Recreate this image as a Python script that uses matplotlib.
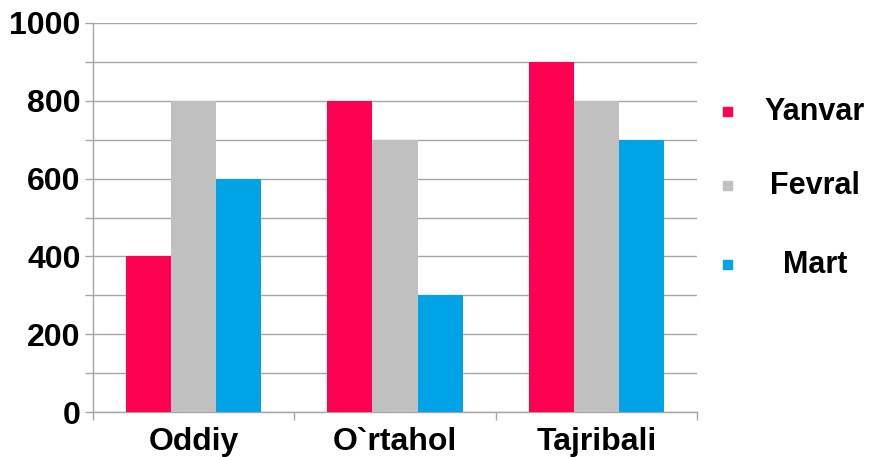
import matplotlib
matplotlib.use('Agg')
import matplotlib.pyplot as plt
from matplotlib.patches import Rectangle
import numpy as np

categories = ['Oddiy', 'O`rtahol', 'Tajribali']
series_names = ['Yanvar', 'Fevral', 'Mart']
yanvar = [400, 800, 900]
fevral = [800, 700, 800]
mart = [600, 300, 700]
colors = ['#FF0052', '#C0C0C0', '#00A3E6']

plt.rcParams['font.family'] = ['Liberation Sans', 'DejaVu Sans']
plt.rcParams['font.weight'] = 'bold'

fig = plt.figure(figsize=(8.79, 4.57), dpi=100)
ax = fig.add_axes([93 / 879, 1 - 412 / 457, (697 - 93) / 879, (412 - 23) / 457])

x = np.arange(len(categories))
w = 0.224
for i, (vals, c) in enumerate(zip([yanvar, fevral, mart], colors)):
    ax.bar(x + (i - 1) * w, vals, width=w, color=c, zorder=3)

ax.set_xlim(-0.5, len(categories) - 0.5)
ax.set_ylim(0, 1000)

# y axis: labels every 200, grid every 100
ax.set_yticks(np.arange(0, 1001, 200))
ax.set_yticks(np.arange(0, 1001, 100), minor=True)
ax.grid(True, axis='y', which='both', color='#A6A6A6', linewidth=1, zorder=0)
ax.tick_params(axis='y', which='both', length=6, color='#A6A6A6', width=1,
               labelsize=23, pad=3)

# x axis: labels at centres, tick marks at category boundaries
ax.set_xticks(x)
ax.set_xticklabels(categories)
ax.set_xticks(np.arange(-0.5, len(categories), 1), minor=True)
ax.tick_params(axis='x', which='major', length=0, labelsize=23, pad=11)
ax.tick_params(axis='x', which='minor', length=6, color='#A6A6A6', width=1)

for s in ['top', 'right']:
    ax.spines[s].set_visible(False)
for s in ['left', 'bottom']:
    ax.spines[s].set_color('#A6A6A6')
    ax.spines[s].set_linewidth(1)

# legend drawn by hand: small squares with centred text
leg_y = [112, 186, 265]
for name, c, yp in zip(series_names, colors, leg_y):
    fig.patches.append(Rectangle((723 / 879, 1 - (yp + 4) / 457), 9 / 879, 9 / 457,
                                 transform=fig.transFigure, color=c))
    fig.text(815 / 879, 1 - yp / 457, name, ha='center', va='center',
             fontsize=22, fontweight='bold')

fig.savefig('out.png', dpi=100)
